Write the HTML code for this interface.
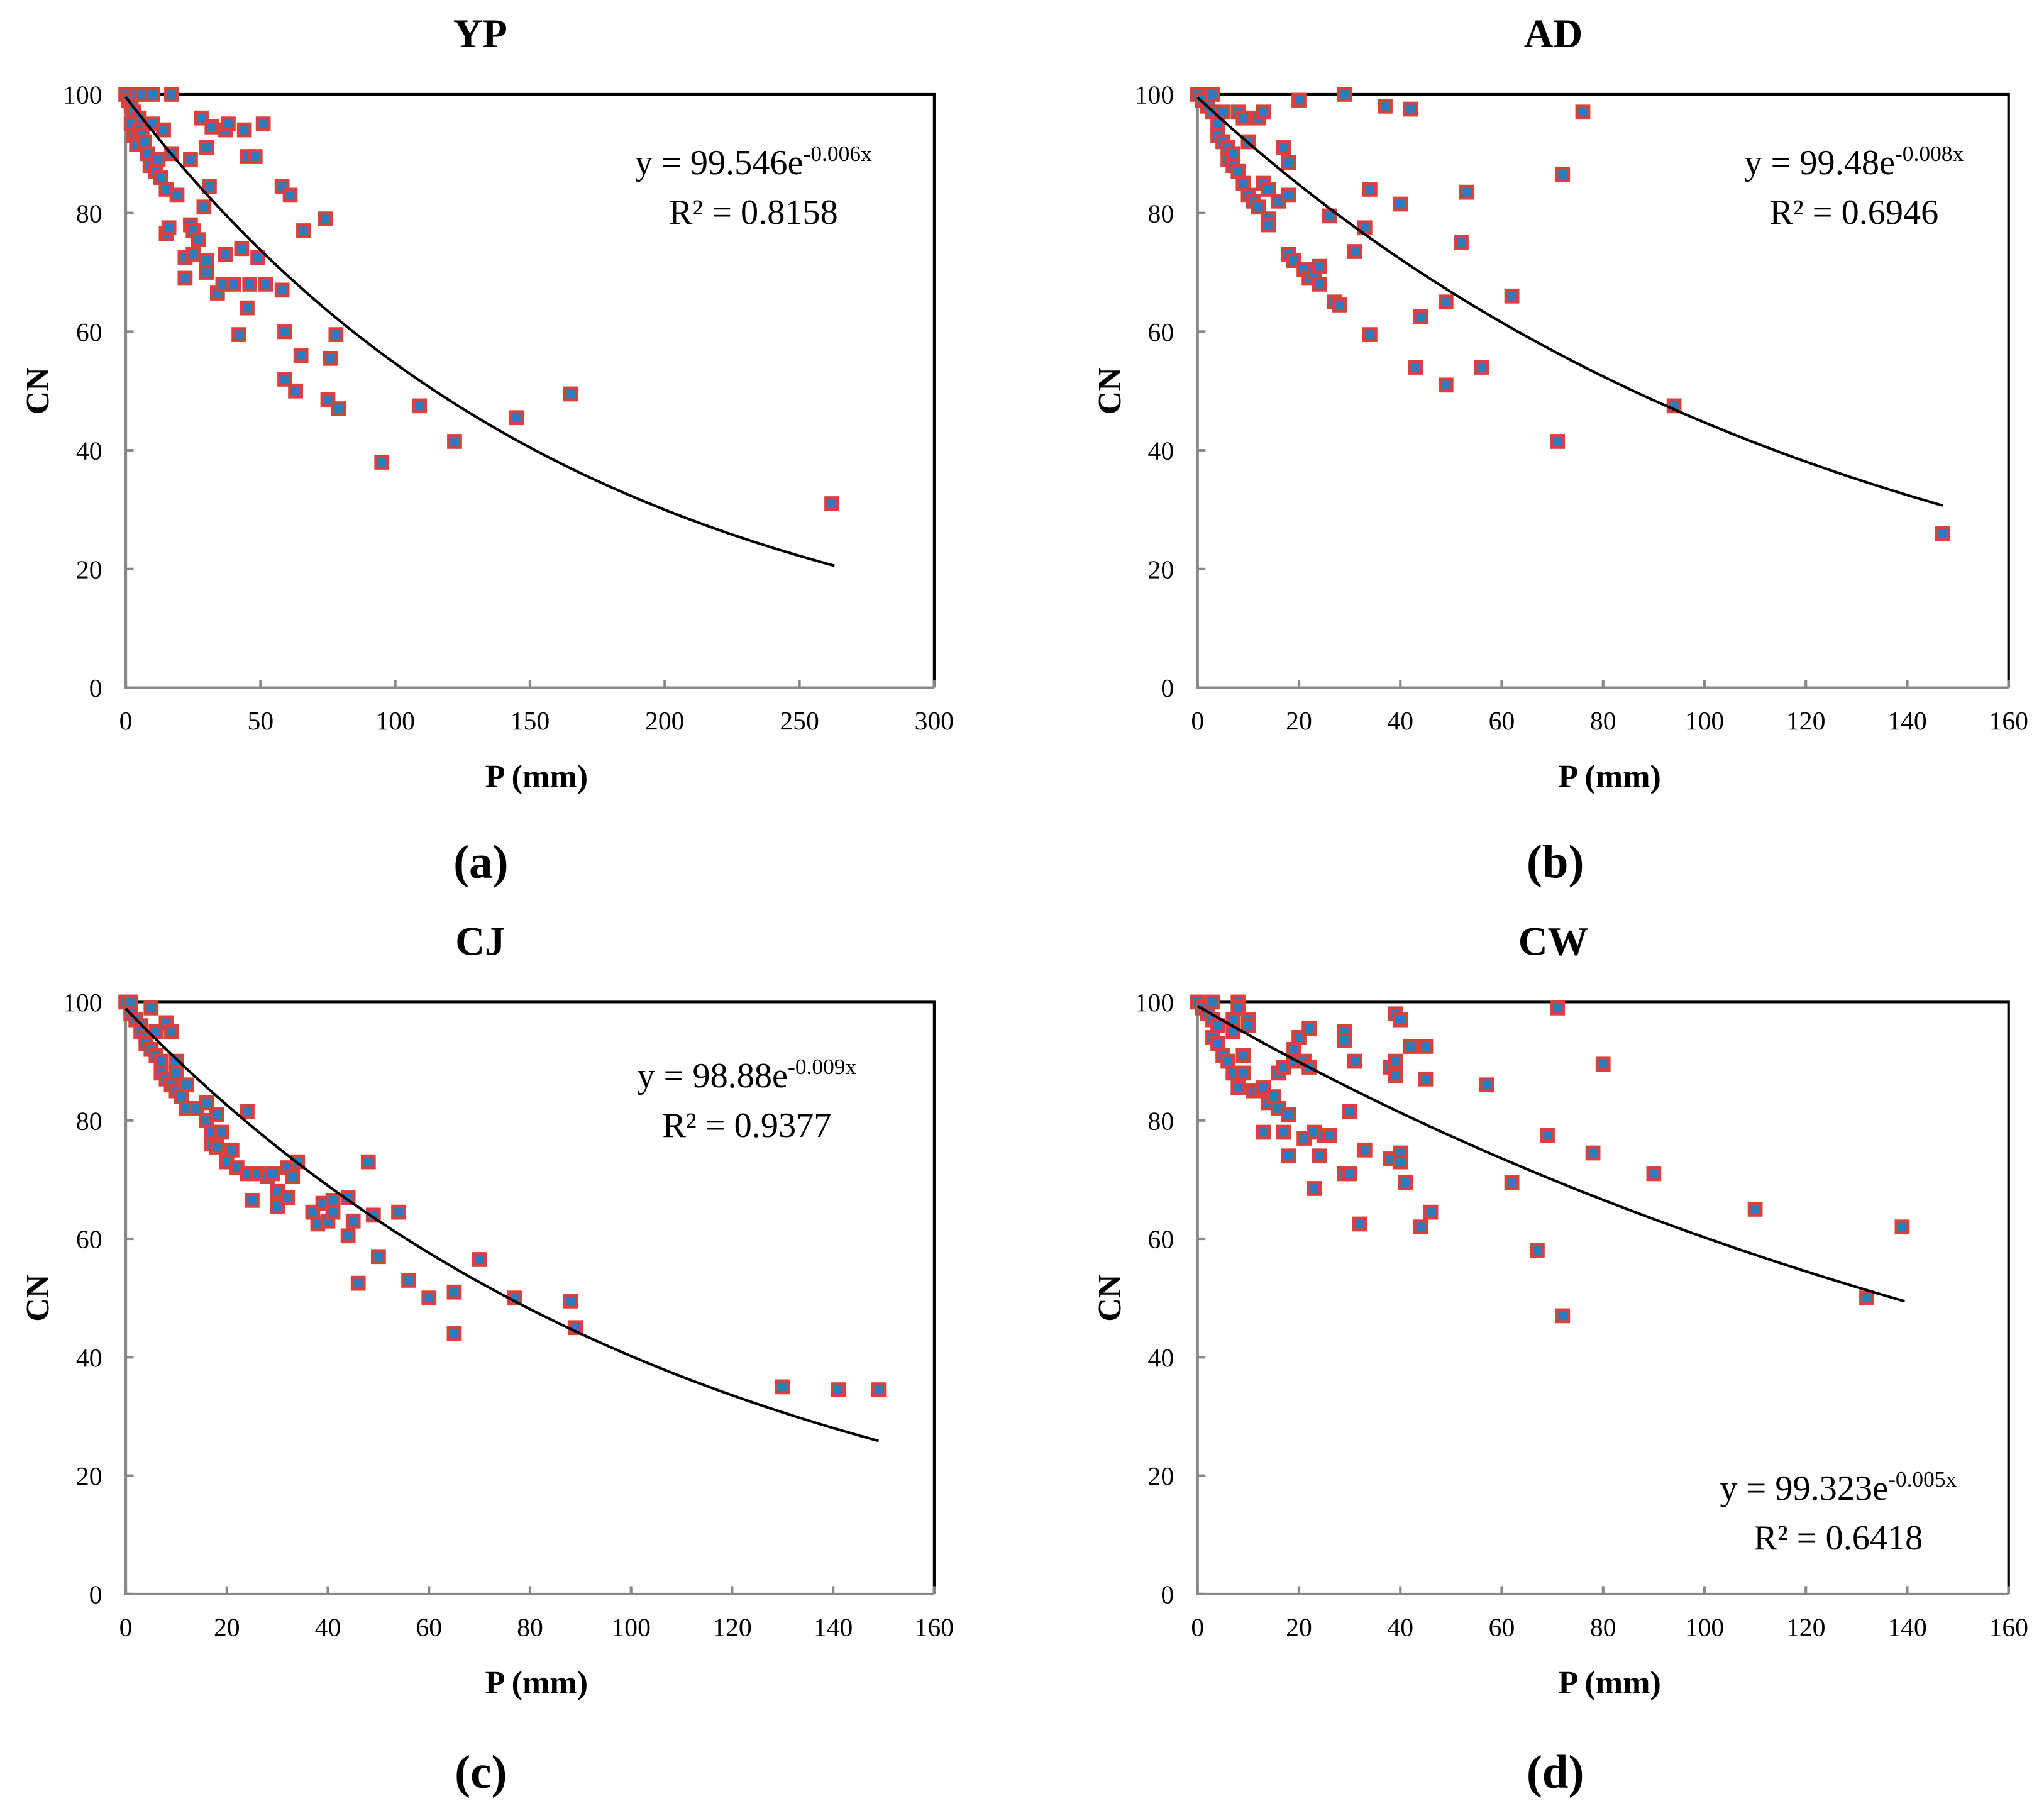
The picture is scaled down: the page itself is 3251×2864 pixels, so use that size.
<!DOCTYPE html>
<html><head><meta charset="utf-8"><style>
html,body{margin:0;padding:0;background:#fff;}
svg{display:block;font-family:"Liberation Serif",serif;}
</style></head><body>
<svg id="fig" xmlns="http://www.w3.org/2000/svg" width="3251" height="2864" viewBox="0 0 1560 1375" preserveAspectRatio="none"></svg>
<script>
// ---- data ----
const ptsA = [[0,100],[1,99],[2,98],[3,97],[4,100],[5,96],[6,100],[2,95],[3,93],[4,91.5],[5,94],[6,93],[7,92],[8,90],[9,88],[10,95],[10,100],[11,87],[12,89],[13,86],[14,94],[15,84],[15,76.5],[16,77.5],[17,100],[17,90],[19,83],[22,72.5],[22,69],[24,89],[24,78],[25,77],[25,73],[27,75.5],[28,96],[29,81],[30,91],[30,72],[30,70],[31,84.5],[32,94.5],[34,66.5],[36,68],[37,94],[37,73],[38,95],[40,68],[42,59.5],[43,74],[44,94],[45,64],[45,89.5],[46,68],[48,89.5],[49,72.5],[51,95],[52,68],[58,84.5],[58,67],[59,60],[59,52],[61,83],[63,50],[65,56],[66,77],[74,79],[75,48.5],[76,55.5],[78,59.5],[79,47],[95,38],[109,47.5],[122,41.5],[145,45.5],[165,49.5],[262,31]];
const ptsB = [[0,100],[1,99],[2,98],[3,97],[3,100],[4,95],[4,93],[5,92],[5,97],[6,91],[6,89],[7,90],[7,88],[8,87],[8,97],[9,85],[9,96],[10,92],[10,83],[11,82],[12,81],[12,96],[13,85],[13,97],[14,79],[14,84],[14,78],[16,82],[17,91],[18,88.5],[18,83],[18,73],[19,72],[20,99],[21,70.5],[22,69],[23,70],[24,71],[24,68],[26,79.5],[27,65],[28,64.5],[29,100],[31,73.5],[33,77.5],[34,84],[34,59.5],[37,98],[40,81.5],[42,97.5],[43,54],[44,62.5],[49,65],[49,51],[52,75],[53,83.5],[56,54],[62,66],[71,41.5],[72,86.5],[76,97],[94,47.5],[147,26]];
const ptsC = [[0,100],[1,100],[1,98],[2,97],[3,96],[3,95],[4,94],[4,93],[5,99],[5,92],[6,91],[6,95],[7,90],[7,88],[8,96.5],[8,87],[9,86],[9,95],[10,90],[10,88],[10,85],[11,84],[12,86],[12,82],[14,82],[16,83],[16,80],[17,78],[17,76],[18,81],[18,75.5],[19,78],[20,73],[21,75],[22,72],[24,81.5],[24,71],[25,66.5],[26,71],[28,70.5],[29,71],[30,65.5],[30,68],[32,67],[32,72],[33,70.5],[34,73],[37,64.5],[38,62.5],[39,66],[40,63],[41,66.5],[41,64.5],[44,67],[44,60.5],[45,63],[46,52.5],[48,73],[49,64],[50,57],[54,64.5],[56,53],[60,50],[65,51],[65,44],[70,56.5],[77,50],[88,49.5],[89,45],[130,35],[141,34.5],[149,34.5]];
const ptsD = [[0,100],[1,99],[2,98],[3,97],[3,100],[3,94],[4,93],[4,96],[5,91],[6,90],[7,88],[7,95],[7,97],[8,100],[8,99],[9,91],[9,88],[8,85.5],[10,97],[10,96],[11,85],[12,85],[13,85.5],[13,78],[14,83],[15,84],[16,82],[16,88],[17,78],[17,89],[18,74],[18,81],[19,90],[19,92],[20,94],[21,77],[21,90],[22,89],[22,95.5],[23,78],[23,68.5],[24,74],[25,77.5],[26,77.5],[29,71],[29,95],[29,93.5],[30,81.5],[30,71],[31,90],[32,62.5],[33,75],[38,89],[38,73.5],[39,98],[39,87.5],[39,90],[40,97],[40,74.5],[40,73],[41,69.5],[42,92.5],[44,62],[45,87],[45,92.5],[46,64.5],[57,86],[62,69.5],[67,58],[69,77.5],[71,99],[72,47],[78,74.5],[80,89.5],[90,71],[110,65],[132,50],[139,62]];
const titles = ["YP","AD","CJ","CW"];
const labels = ["(a)","(b)","(c)","(d)"];
const coefA = [99.546, 99.48, 98.88, 99.323];
const coefB = [0.006, 0.008, 0.009, 0.005];
const r2 = ["0.8158","0.6946","0.9377","0.6418"];
const curveEnd = [263, 147, 149, 139.5];
const xMaxes = [300,160,160,160];
const xSteps = [50,20,20,20];
const yTicks = [0,20,40,60,80,100];

const NS="http://www.w3.org/2000/svg";
const svg=document.getElementById('fig');
function mk(tag,attrs,parent){const e=document.createElementNS(NS,tag);for(const k in attrs)e.setAttribute(k,attrs[k]);(parent||svg).appendChild(e);return e;}
const layout=[{x0:96,x1:713,y0:72,y1:525,eqx:575,eqy:133,lab:{x:367,y:670}},
{x0:914,x1:1533,y0:72,y1:525,eqx:1415,eqy:133,lab:{x:1187,y:670}},
{x0:96,x1:713,y0:765,y1:1217,eqx:570,eqy:830,lab:{x:367,y:1365}},
{x0:914,x1:1533,y0:765,y1:1217,eqx:1403,eqy:1145,lab:{x:1187,y:1365}}];
const allPts=[ptsA,ptsB,ptsC,ptsD];
layout.forEach((L,i)=>{
  const g=mk('g',{});
  
  
  const xs=v=>L.x0+(L.x1-L.x0)*v/xMaxes[i];
  const ys=v=>L.y1-(L.y1-L.y0)*v/100;
  const cx=(L.x0+L.x1)/2;
  const t=mk('text',{x:cx-38,y:L.y0-36,'text-anchor':'middle','font-size':31,'font-weight':'bold'},g);t.textContent=titles[i];
  
  const fr=mk('path',{d:`M${L.x0},${L.y0}H${L.x1}V${L.y1}`,stroke:'#000','stroke-width':2,fill:'none'},g);
  
  const ax=mk('path',{d:`M${L.x0},${L.y0}V${L.y1}H${L.x1}`,stroke:'#888','stroke-width':2,fill:'none'},g);
  
  yTicks.forEach(v=>{
    mk('line',{x1:L.x0,x2:L.x0+6,y1:ys(v),y2:ys(v),stroke:'#888','stroke-width':2},g);
    const tl=mk('text',{x:L.x0-18,y:ys(v)+7,'text-anchor':'end','font-size':20},g);tl.textContent=v;
    
  });
  for(let v=0;v<=xMaxes[i];v+=xSteps[i]){
    mk('line',{x1:xs(v),x2:xs(v),y1:L.y1,y2:L.y1-6,stroke:'#888','stroke-width':2},g);
    const tl=mk('text',{x:xs(v),y:L.y1+32,'text-anchor':'middle','font-size':20},g);tl.textContent=v;
    
  }
  const xt=mk('text',{x:cx+5,y:L.y1+76,'text-anchor':'middle','font-size':25,'font-weight':'bold'},g);xt.textContent='P (mm)';
  
  const yy=(L.y0+L.y1)/2;
  const yt=mk('text',{'text-anchor':'middle','font-size':25,'font-weight':'bold',transform:`rotate(-90 ${L.x0-68} ${yy})`},g);
  yt.setAttribute('x',L.x0-68);yt.setAttribute('y',yy+9);yt.textContent='CN';
  
  allPts[i].forEach(p=>{
    const r=mk('rect',{x:xs(p[0])-4.5,y:ys(p[1])-4.5,width:9,height:9,fill:'#2b7bbf',stroke:'#d9413f','stroke-width':2.4},g);
    
  });
  let d='';
  for(let k=0;k<=200;k++){const x=curveEnd[i]*k/200;const y=coefA[i]*Math.exp(-coefB[i]*x);d+=(k?'L':'M')+xs(x).toFixed(2)+','+ys(y).toFixed(2);}
  const c=mk('path',{d,stroke:'#000','stroke-width':2,fill:'none'},g);
  
  const eq=mk('text',{x:L.eqx,y:L.eqy,'text-anchor':'middle','font-size':27},g);
  
  eq.appendChild(document.createTextNode('y = '+coefA[i]+'e'));
  const sup=mk('tspan',{dy:-10,'font-size':17},eq);sup.textContent='-'+coefB[i]+'x';
  const r2t=mk('text',{x:L.eqx,y:L.eqy+38,'text-anchor':'middle','font-size':27},g);r2t.textContent='R² = '+r2[i];
  
  const lb=mk('text',{x:L.lab.x,y:L.lab.y,'text-anchor':'middle','font-size':36,'font-weight':'bold'},g);lb.textContent=labels[i];
  
});
</script>
</body></html>
